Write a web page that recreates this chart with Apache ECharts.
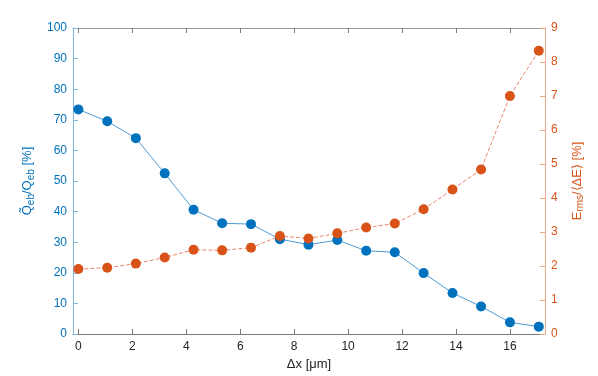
<!DOCTYPE html>
<html>
<head>
<meta charset="utf-8">
<script src="https://cdn.jsdelivr.net/npm/echarts@6/dist/echarts.min.js"></script>
<style>
  html, body { margin: 0; padding: 0; background: #fff; }
  #chart { width: 598px; height: 376px; }
</style>
</head>
<body>
<div id="chart"></div>
<script>
// Δx 取值 [µm]
const dx = [0, 1.07, 2.13, 3.2, 4.27, 5.33, 6.4, 7.47, 8.53, 9.6, 10.67, 11.73, 12.8, 13.87, 14.93, 16, 17.07]
// 左轴：Q̃eb/Qeb [%]
const qRatio = [73.4, 69.5, 64, 52.5, 40.6, 36.2, 35.9, 31, 29.2, 30.7, 27.2, 26.7, 19.9, 13.4, 9, 3.8, 2.4]
// 右轴：Erms/<ΔE> [%]
const eRatio = [1.91, 1.95, 2.07, 2.25, 2.48, 2.46, 2.54, 2.88, 2.81, 2.96, 3.13, 3.25, 3.67, 4.25, 4.84, 7.0, 8.33]
const xTicks = [0, 2, 4, 6, 8, 10, 12, 14, 16]

const BLUE = '#0072BD'
const ORANGE = '#D95319'
const FONT = 'Liberation Sans'

const chart = echarts.init(document.getElementById('chart'))

const pair = (ys) => dx.map((x, i) => [x, ys[i]])

chart.setOption({
  animation: false,
  textStyle: { fontFamily: FONT },
  grid: { left: 73, right: 53, top: 28, bottom: 42 },
  xAxis: [
    {
      type: 'value',
      min: -0.2,
      max: 17.3,
      name: 'Δx [μm]',
      nameLocation: 'middle',
      nameGap: 24,
      nameTextStyle: { color: '#262626', fontSize: 13, fontFamily: FONT },
      axisLine: { onZero: false, lineStyle: { color: '#7a7a7a', width: 1 } },
      axisTick: { inside: true, length: 5, customValues: xTicks, lineStyle: { color: '#7a7a7a' } },
      axisLabel: { customValues: xTicks, color: '#262626', fontSize: 12, margin: 7 },
      splitLine: { show: false }
    },
    {
      // 顶部边框线 + 刻度
      type: 'value',
      position: 'top',
      min: -0.2,
      max: 17.3,
      axisLine: { onZero: false, lineStyle: { color: '#9a9a9a', width: 1 } },
      axisTick: { inside: true, length: 5, customValues: xTicks, lineStyle: { color: '#7a7a7a' } },
      axisLabel: { show: false },
      splitLine: { show: false }
    }
  ],
  yAxis: [
    {
      type: 'value',
      min: 0,
      max: 100,
      interval: 10,
      position: 'left',
      name: '{n|Q̃}{s|eb}{n|/Q}{s|eb}{n| [%]}',
      nameLocation: 'middle',
      nameRotate: 90,
      nameGap: 36,
      nameTextStyle: {
        color: BLUE,
        rich: {
          n: { fontSize: 13, color: BLUE, fontFamily: FONT, lineHeight: 18 },
          s: { fontSize: 10, color: BLUE, fontFamily: FONT, lineHeight: 18, padding: [7, 0, 0, 0] }
        }
      },
      axisLine: { show: true, onZero: false, lineStyle: { color: '#80b8e0', width: 1 } },
      axisTick: { inside: true, length: 5, lineStyle: { color: '#80b8e0' } },
      axisLabel: { color: BLUE, fontSize: 12, margin: 6 },
      splitLine: { show: false }
    },
    {
      type: 'value',
      min: 0,
      max: 9,
      interval: 1,
      position: 'right',
      name: '{n|E}{s|rms}{n|/⟨ΔE⟩ [%]}',
      nameLocation: 'middle',
      nameRotate: 90,
      nameGap: 10,
      nameTextStyle: {
        color: ORANGE,
        rich: {
          n: { fontSize: 13, color: ORANGE, fontFamily: FONT, lineHeight: 18 },
          s: { fontSize: 10, color: ORANGE, fontFamily: FONT, lineHeight: 18, padding: [7, 0, 0, 0] }
        }
      },
      axisLine: { show: true, onZero: false, lineStyle: { color: '#eca88a', width: 1 } },
      axisTick: { inside: true, length: 5, lineStyle: { color: '#eca88a' } },
      axisLabel: { color: ORANGE, fontSize: 12, margin: 6 },
      splitLine: { show: false }
    }
  ],
  series: [
    {
      name: 'Q',
      type: 'line',
      yAxisIndex: 0,
      data: pair(qRatio),
      symbol: 'circle',
      symbolSize: 10,
      itemStyle: { color: BLUE },
      lineStyle: { color: '#4c9bd6', width: 1 }
    },
    {
      name: 'E',
      type: 'line',
      yAxisIndex: 1,
      data: pair(eRatio),
      symbol: 'circle',
      symbolSize: 10,
      itemStyle: { color: ORANGE },
      lineStyle: { color: '#e8876a', width: 1, type: [4, 2] }
    }
  ]
})
</script>
</body>
</html>
